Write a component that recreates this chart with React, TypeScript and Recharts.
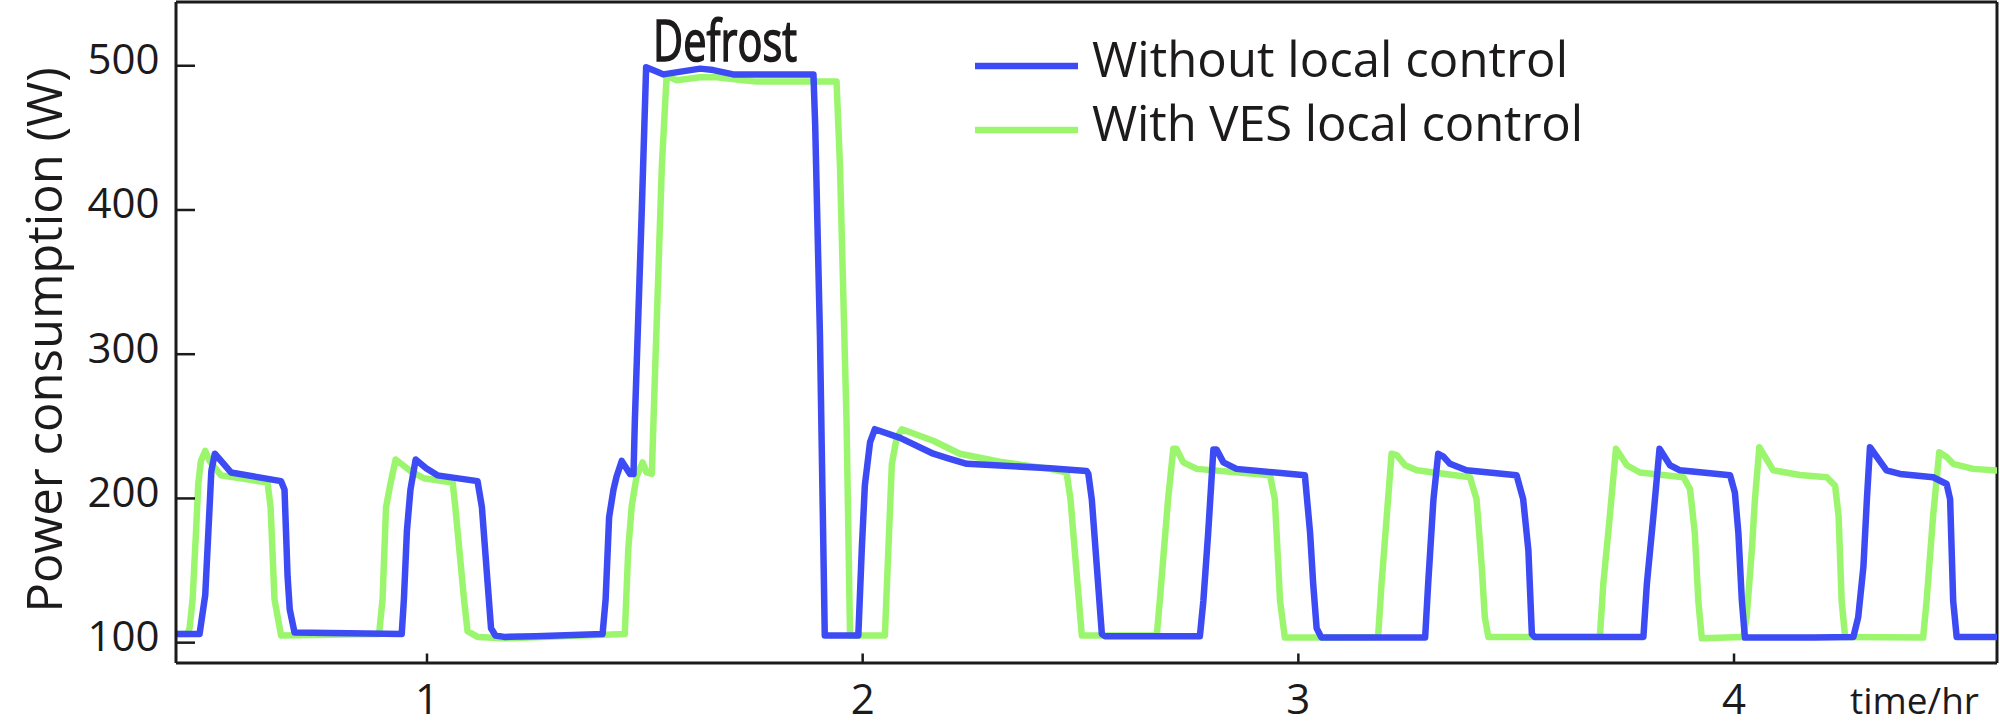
import React from "react";
import {
  LineChart,
  Line,
  XAxis,
  YAxis,
  Legend,
  ReferenceLine,
} from "recharts";

// time (hr) and power (W)
const blueTime = [
  0.424, 0.478, 0.491, 0.501, 0.505, 0.513, 0.55, 0.665, 0.673, 0.68, 0.685, 0.696,
  0.942, 0.947, 0.954, 0.962, 0.974, 0.998, 1.024, 1.116, 1.126, 1.147, 1.157, 1.177,
  1.249, 1.403, 1.41, 1.418, 1.428, 1.435, 1.447, 1.466, 1.474, 1.477, 1.493, 1.503,
  1.531, 1.542, 1.627, 1.657, 1.703, 1.887, 1.891, 1.902, 1.913, 1.99, 1.998, 2.005,
  2.017, 2.028, 2.086, 2.162, 2.2, 2.239, 2.43, 2.514, 2.518, 2.526, 2.549, 2.556,
  2.774, 2.782, 2.793, 2.805, 2.812, 2.828, 2.858, 3.015, 3.027, 3.034, 3.042, 3.053,
  3.291, 3.298, 3.31, 3.321, 3.333, 3.348, 3.386, 3.501, 3.516, 3.528, 3.536, 3.542,
  3.792, 3.8, 3.815, 3.829, 3.853, 3.876, 3.991, 4.002, 4.01, 4.018, 4.025, 4.182,
  4.274, 4.285, 4.297, 4.305, 4.312, 4.35, 4.381, 4.457, 4.488, 4.496, 4.503, 4.511,
  4.604,
];
const bluePower = [
  106, 106, 133, 194, 219, 231, 218, 212, 206, 146, 123, 107,
  106, 130, 178, 206, 227, 221, 216, 212, 194, 110, 105, 104,
  104.5, 106, 130, 187, 206, 215, 226, 217, 217, 253, 400, 499,
  495.5, 494, 498, 497, 494, 494, 459, 312, 105, 105, 165, 209,
  239, 248, 242, 231, 227.5, 224, 221, 219, 217, 199, 106, 104.5,
  104.5, 129, 176, 234, 234, 225, 220.5, 216, 176, 141, 110, 103.5,
  103.5, 141, 199, 231, 229, 224, 219.5, 216, 199.5, 164, 106, 104,
  104, 141, 188, 234.5, 223, 219.5, 216, 204, 176, 129, 103.5, 103.5,
  104, 117.6, 152.7, 199.5, 235.5, 219.5, 217, 214.7, 210, 199.5, 129, 104,
  104,
];

const greenTime = [
  0.424, 0.45, 0.455, 0.462, 0.47, 0.475, 0.481, 0.491, 0.501, 0.527, 0.634, 0.641,
  0.65, 0.665, 0.89, 0.898, 0.906, 0.916, 0.928, 0.962, 0.993, 1.059, 1.065, 1.085,
  1.093, 1.116, 1.177, 1.454, 1.462, 1.47, 1.481, 1.495, 1.504, 1.516, 1.523, 1.539,
  1.55, 1.573, 1.627, 1.665, 1.726, 1.757, 1.94, 1.948, 1.963, 1.971, 2.051, 2.059,
  2.067, 2.078, 2.09, 2.162, 2.223, 2.315, 2.43, 2.468, 2.477, 2.503, 2.675, 2.682,
  2.701, 2.713, 2.72, 2.736, 2.767, 2.935, 2.946, 2.958, 2.969, 3.042, 3.183, 3.191,
  3.203, 3.214, 3.226, 3.245, 3.272, 3.394, 3.409, 3.421, 3.428, 3.436, 3.692, 3.7,
  3.715, 3.729, 3.754, 3.784, 3.884, 3.899, 3.91, 3.918, 3.926, 4.021, 4.029, 4.041,
  4.048, 4.058, 4.09, 4.151, 4.213, 4.232, 4.24, 4.247, 4.255, 4.434, 4.442, 4.457,
  4.471, 4.488, 4.503, 4.549, 4.604,
];
const greenPower = [
  106, 106, 110, 130, 178, 210, 226, 233, 226, 216, 211, 194,
  130, 105, 106, 130, 194, 210, 227, 219, 214, 211, 194, 130,
  108, 104, 103, 106, 165, 195, 215, 225, 218, 217, 283, 430,
  493, 490, 492, 492, 490, 489, 489, 430, 253, 105, 105, 165,
  224, 242, 248, 240, 231, 225.4, 220.5, 218, 199.5, 105, 105, 129,
  199.5, 234.5, 234.5, 225, 220.5, 216, 199.5, 129, 103.5, 103.5, 104, 141,
  188, 231, 230, 223, 219.5, 214.7, 199.5, 152.7, 117.6, 104, 104, 141,
  188, 234.5, 223, 218, 214.7, 206.5, 176, 129, 103, 104, 117.6, 164.4,
  199.5, 235.5, 219.5, 216.3, 214.7, 208.8, 187.8, 129, 104, 103.5, 129, 188,
  232, 228.7, 224, 220.5, 219.4,
];

const xTicks = [1, 2, 3, 4];
const yTicks = [100, 200, 300, 400, 500];
const seriesNames = ["Without local control", "With VES local control"];

const blueData = blueTime.map((t, i) => ({ t, p: bluePower[i] }));
const greenData = greenTime.map((t, i) => ({ t, p: greenPower[i] }));

const BLUE = "#3d4bf4";
const GREEN = "#9bf66e";
const INK = "#1c1a1b";
const FONT = "'Open Sans', 'Noto Sans', sans-serif";

const xDomain = [0.4239, 4.6036];
const yDomain = [85.9, 544.2];

function YTick(props: any) {
  const { x, y, payload } = props;
  return (
    <g>
      <line x1={x} x2={x + 19} y1={y} y2={y} stroke={INK} strokeWidth={2.5} />
      <text
        x={x - 16.5}
        y={y - 6.5}
        dy="0.355em"
        textAnchor="end"
        fontFamily={FONT}
        fontSize={42}
        fill={INK}
      >
        {payload.value}
      </text>
    </g>
  );
}

function XTick(props: any) {
  const { x, y, payload } = props;
  return (
    <g>
      <line x1={x} x2={x} y1={y} y2={y - 9.5} stroke={INK} strokeWidth={2.5} />
      <text x={x} y={y + 50.5} textAnchor="middle" fontFamily={FONT} fontSize={42} fill={INK}>
        {payload.value}
      </text>
    </g>
  );
}

function LegendBox() {
  const colors = [BLUE, GREEN];
  const lengths = [476, 491];
  return (
    <svg width={640} height={150}>
      {seriesNames.map((name, i) => (
        <g key={name}>
          <line x1={15} x2={118} y1={46 + i * 64} y2={46 + i * 64} stroke={colors[i]} strokeWidth={6.5} />
          <text
            x={132}
            y={57.3 + i * 63.5}
            fontFamily={FONT}
            fontSize={49}
            fill={INK}
            textLength={lengths[i]}
            lengthAdjust="spacing"
          >
            {name}
          </text>
        </g>
      ))}
    </svg>
  );
}

// axis title plus the "Defrost" note above the tall block
function YTitle() {
  return (
    <g>
      <text
        x={62}
        y={340}
        transform="rotate(-90 62 340)"
        textAnchor="middle"
        fontFamily={FONT}
        fontSize={49}
        fill={INK}
      >
        Power consumption (W)
      </text>
      <text
        x={653}
        y={61}
        fontFamily={FONT}
        fontSize={57}
        fill={INK}
        stroke={INK}
        strokeWidth={1.6}
        textLength={144}
        lengthAdjust="spacingAndGlyphs"
      >
        Defrost
      </text>
    </g>
  );
}

export default function App() {
  return (
    <div style={{ position: "absolute", left: 0, top: 0, width: 2000, height: 726, background: "#fff" }}>
      <LineChart width={2000} height={726} margin={{ top: 2, right: 3, bottom: 0, left: 0 }}>
        <XAxis
          type="number"
          dataKey="t"
          domain={xDomain}
          allowDataOverflow
          ticks={xTicks}
          interval={0}
          height={63}
          tickSize={0}
          tickMargin={0}
          tickLine={false}
          axisLine={{ stroke: INK, strokeWidth: 3 }}
          tick={<XTick />}
          label={{
            content: () => (
              <text x={1850} y={713.5} fontFamily={FONT} fontSize={37} fill={INK}>
                time/hr
              </text>
            ),
          }}
        />
        <YAxis
          type="number"
          domain={yDomain}
          allowDataOverflow
          ticks={yTicks}
          interval={0}
          width={176}
          tickSize={0}
          tickMargin={0}
          tickLine={false}
          axisLine={{ stroke: INK, strokeWidth: 3 }}
          tick={<YTick />}
          label={{ content: () => <YTitle /> }}
        />
        <ReferenceLine y={yDomain[1]} stroke={INK} strokeWidth={3} />
        <ReferenceLine x={xDomain[1]} stroke={INK} strokeWidth={3} />
        <Legend
          layout="horizontal"
          verticalAlign="middle"
          align="center"
          content={() => <LegendBox />}
          wrapperStyle={{ position: "absolute", left: 960, top: 20, width: 640, height: 150 }}
        />
        <Line
          data={greenData}
          dataKey="p"
          name={seriesNames[1]}
          type="linear"
          stroke={GREEN}
          strokeWidth={6.5}
          strokeLinejoin="round"
          dot={false}
          activeDot={false}
          isAnimationActive={false}
        />
        <Line
          data={blueData}
          dataKey="p"
          name={seriesNames[0]}
          type="linear"
          stroke={BLUE}
          strokeWidth={6.5}
          strokeLinejoin="round"
          dot={false}
          activeDot={false}
          isAnimationActive={false}
        />
      </LineChart>
    </div>
  );
}
